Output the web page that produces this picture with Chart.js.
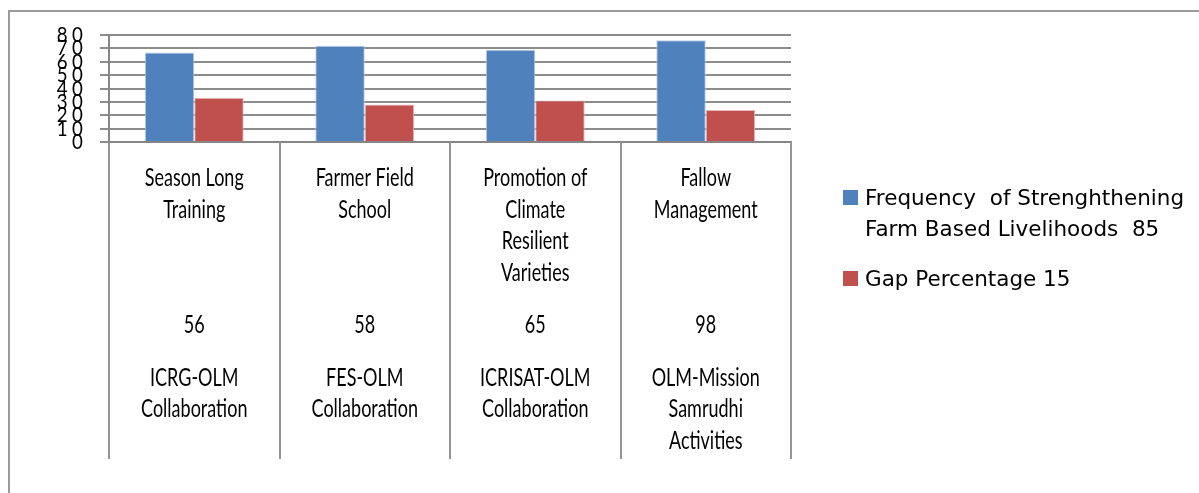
<!DOCTYPE html>
<html>
<head>
<meta charset="utf-8">
<script src="https://cdn.jsdelivr.net/npm/chart.js@4.4.1/dist/chart.umd.min.js"></script>
<style>
  html, body { margin: 0; padding: 0; background: #fff; }
  #wrap { position: relative; width: 1199px; height: 493px; overflow: hidden; }
  #frame { position: absolute; left: 8px; top: 10px; width: 1300px; height: 600px;
           border-top: 2px solid #9a9a9a; border-left: 2px solid #9a9a9a; }
  #chart { position: absolute; left: 0; top: 0; }
  #legend { position: absolute; left: 843px; top: 182px; font-family: "DejaVu Sans", sans-serif;
            font-size: 21.5px; line-height: 31px; color: #000; }
  .item { position: relative; padding-left: 22px; margin-bottom: 19px; white-space: pre; }
  .box { position: absolute; left: 0; top: 8px; width: 15px; height: 15px; }
</style>
</head>
<body>
<div id="wrap">
  <div id="frame"></div>
  <canvas id="chart" width="1199" height="493"></canvas>
  <div id="legend"></div>
</div>
<script>
// chart values
const categoryNames = [
  ["Season Long", "Training"],
  ["Farmer Field", "School"],
  ["Promotion of", "Climate", "Resilient", "Varieties"],
  ["Fallow", "Management"]
]
const villageCounts = ["56", "58", "65", "98"]
const partners = [
  ["ICRG-OLM", "Collaboration"],
  ["FES-OLM", "Collaboration"],
  ["ICRISAT-OLM", "Collaboration"],
  ["OLM-Mission", "Samrudhi", "Activities"]
]
const frequencyValues = [67, 72, 69, 76]
const gapValues = [33, 28, 31, 24]
const seriesNames = [
  ["Frequency  of Strenghthening", "Farm Based Livelihoods  85"],
  ["Gap Percentage 15"]
]
const seriesColors = ["#4F81BD", "#C0504D"]
const seriesEdges = ["#B9CDE5", "#E6B9B8"]
const yMin = 0
const yMax = 80
const yStep = 10

// the text in the original is tall and narrow
const labelStretch = 1.35
const tickSqueeze = 0.85

// each category label is a stack of small rows, text every 3rd row
function stackLabel(i) {
  const rows = new Array(26).fill("")
  categoryNames[i].forEach((t, k) => { rows[k * 3] = t })
  rows[14] = villageCounts[i]
  partners[i].forEach((t, k) => { rows[19 + k * 3] = t })
  return rows
}

const separators = {
  id: "separators",
  afterDraw(chart) {
    const x = chart.scales.x
    const ctx = chart.ctx
    ctx.save()
    ctx.strokeStyle = "#959595"
    ctx.lineWidth = 2
    for (let i = 0; i <= categoryNames.length; i++) {
      const px = Math.round(x.getPixelForValue(i - 0.5))
      ctx.beginPath()
      ctx.moveTo(px, chart.chartArea.bottom)
      ctx.lineTo(px, 459)
      ctx.stroke()
    }
    ctx.restore()
  }
}

const labelStyle = {
  id: "labelStyle",
  afterLayout(chart) {
    const { x, y } = chart.scales
    if (!x._plainDrawLabels) {
      x._plainDrawLabels = x.drawLabels
      x.drawLabels = function (area) {
        const ctx = this.ctx
        ctx.save()
        ctx.translate(0, this.top)
        ctx.scale(1, labelStretch)
        ctx.translate(0, -this.top)
        this._plainDrawLabels(area)
        ctx.restore()
      }
    }
    if (!y._plainDrawLabels) {
      y._plainDrawLabels = y.drawLabels
      y.drawLabels = function (area) {
        const ctx = this.ctx
        const rx = this.right - this.options.grid.tickLength - this.options.ticks.padding
        ctx.save()
        ctx.letterSpacing = "5px"
        ctx.translate(rx, 0)
        ctx.scale(tickSqueeze, 1)
        ctx.translate(-rx, 0)
        this._plainDrawLabels(area)
        ctx.restore()
      }
    }
  }
}

const tickFont = { family: "Lato, 'Liberation Sans', sans-serif", size: 18 }

const chart = new Chart(document.getElementById("chart"), {
  type: "bar",
  data: {
    labels: categoryNames.map((_, i) => stackLabel(i)),
    datasets: seriesNames.map((name, i) => ({
      label: name.join(" "),
      data: i === 0 ? frequencyValues : gapValues,
      backgroundColor: seriesColors[i],
      borderColor: seriesEdges[i],
      borderWidth: 1
    }))
  },
  options: {
    responsive: false,
    animation: false,
    layout: { padding: { left: 0, top: 35, right: 408, bottom: 0 } },
    datasets: { bar: { categoryPercentage: 0.58, barPercentage: 1.0 } },
    plugins: { legend: { display: false }, tooltip: { enabled: false } },
    scales: {
      x: {
        grid: { display: false },
        border: { display: true, color: "#868686", width: 2 },
        ticks: {
          color: "#000",
          font: { ...tickFont, lineHeight: (10.5 / labelStretch) + "px" },
          padding: 15,
          maxRotation: 0,
          autoSkip: false
        },
        afterFit: (scale) => { scale.height = 351 }
      },
      y: {
        min: yMin,
        max: yMax,
        grid: { color: "#8c8c8c", lineWidth: 2, tickLength: 9 },
        border: { color: "#868686", width: 2 },
        ticks: { stepSize: yStep, autoSkip: false, color: "#000", font: { ...tickFont, size: 22 }, padding: 13 },
        afterFit: (scale) => { scale.width = 109 }
      }
    }
  },
  plugins: [separators, labelStyle]
})

// legend built from the chart's datasets
const legend = document.getElementById("legend")
chart.data.datasets.forEach((ds, i) => {
  const item = document.createElement("div")
  item.className = "item"
  const box = document.createElement("span")
  box.className = "box"
  box.style.background = ds.backgroundColor
  item.appendChild(box)
  item.appendChild(document.createTextNode(seriesNames[i].join("\n")))
  legend.appendChild(item)
})
</script>
</body>
</html>
